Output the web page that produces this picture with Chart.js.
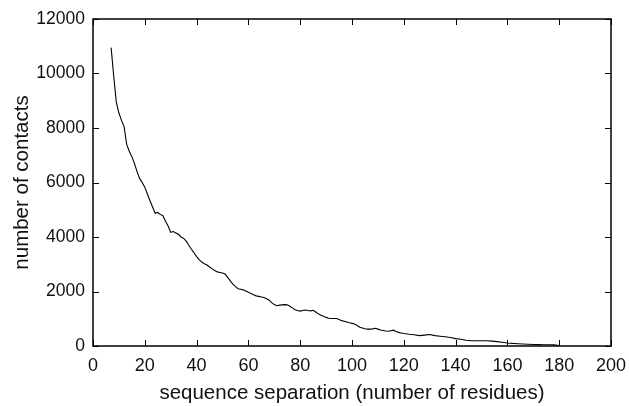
<!DOCTYPE html>
<html>
<head>
<meta charset="utf-8">
<script src="https://cdn.jsdelivr.net/npm/chart.js@4.4.0/dist/chart.umd.min.js"></script>
<style>
  html, body { margin: 0; padding: 0; background: #fff; }
  #wrap { width: 629px; height: 406px; }
</style>
</head>
<body>
<div id="wrap"><canvas id="contactsChart"></canvas></div>
<script>
// separación de secuencia y número de contactos
const separation = [
  7, 8, 9, 10, 11, 12, 13, 14, 15, 16, 17, 18, 19, 20, 21, 22, 23, 24, 25, 26, 27, 28, 29, 30,
  31, 32, 33, 34, 35, 36, 37, 38, 39, 40, 41, 42, 43, 44, 45, 46, 47, 48, 49, 50,
  51, 52, 53, 54, 55, 56, 57, 58, 59, 60, 61, 62, 63, 64, 65, 66, 67, 68, 69, 70,
  71, 72, 73, 74, 75, 76, 77, 78, 79, 80, 81, 82, 83, 84, 85, 86, 87, 88, 89, 90,
  91, 92, 93, 94, 95, 96, 97, 98, 99, 100, 101, 102, 103, 104, 105, 106, 107, 108, 109, 110,
  111, 112, 113, 114, 115, 116, 117, 118, 119, 120, 122, 124, 126, 128, 130,
  132, 134, 136, 138, 140, 142, 144, 146, 148, 150, 152, 154, 156, 158, 160,
  162, 164, 166, 168, 170, 172, 174, 176, 178, 180
];
const contacts = [
  10950, 9900, 8950, 8550, 8280, 8050, 7400, 7150, 6950, 6700, 6400, 6150, 6000, 5830, 5580, 5330, 5100, 4870, 4900, 4830, 4780, 4580, 4400, 4170,
  4200, 4150, 4100, 4000, 3950, 3850, 3700, 3550, 3420, 3280, 3170, 3080, 3020, 2970, 2900, 2830, 2770, 2720, 2700, 2680,
  2640, 2520, 2390, 2270, 2180, 2100, 2080, 2060, 2020, 1970, 1930, 1880, 1840, 1820, 1800, 1780, 1730, 1680, 1590, 1520,
  1480, 1500, 1510, 1520, 1510, 1460, 1400, 1330, 1300, 1280, 1300, 1320, 1300, 1290, 1310, 1250, 1180, 1130, 1090, 1050,
  1020, 1010, 1010, 1010, 970, 930, 910, 880, 850, 830, 810, 750, 690, 660, 630, 620, 620, 630, 650, 620,
  590, 570, 550, 540, 560, 580, 530, 500, 480, 460, 430, 410, 380, 400, 420,
  380, 360, 340, 310, 270, 250, 210, 195, 190, 195, 195, 180, 160, 140, 110,
  95, 85, 75, 65, 55, 50, 48, 45, 40, 20
];
const xTicks = [0, 20, 40, 60, 80, 100, 120, 140, 160, 180, 200];
const yTicks = [0, 2000, 4000, 6000, 8000, 10000, 12000];

const points = separation.map((s, i) => ({ x: s, y: contacts[i] }));
const fontFamily = '"Liberation Sans", Arial, Helvetica, sans-serif';

// marco y marcas hacia dentro, estilo gnuplot
const framePlugin = {
  id: 'frame',
  afterDraw(chart) {
    const { ctx, chartArea: a, scales: { x, y } } = chart;
    const len = 6;
    ctx.save();
    ctx.strokeStyle = '#000';
    ctx.lineWidth = 1;
    ctx.beginPath();
    xTicks.forEach(v => {
      const px = Math.round(x.getPixelForValue(v)) + 0.5;
      ctx.moveTo(px, a.bottom); ctx.lineTo(px, a.bottom - len);
      ctx.moveTo(px, a.top); ctx.lineTo(px, a.top + len);
    });
    yTicks.forEach(v => {
      const py = Math.round(y.getPixelForValue(v)) + 0.5;
      ctx.moveTo(a.left, py); ctx.lineTo(a.left + len, py);
      ctx.moveTo(a.right, py); ctx.lineTo(a.right - len, py);
    });
    ctx.stroke();
    ctx.lineWidth = 1.5;
    ctx.strokeRect(a.left, a.top, a.right - a.left, a.bottom - a.top);
    ctx.restore();
  }
};

new Chart(document.getElementById('contactsChart'), {
  type: 'line',
  data: {
    datasets: [{
      data: points,
      borderColor: '#000',
      borderWidth: 1.1,
      pointRadius: 0,
      tension: 0,
      fill: false
    }]
  },
  options: {
    responsive: true,
    maintainAspectRatio: false,
    animation: false,
    layout: { padding: { top: 19, right: 18, left: 0, bottom: 0 } },
    plugins: { legend: { display: false }, tooltip: { enabled: false } },
    scales: {
      x: {
        type: 'linear',
        min: 0, max: 200,
        afterBuildTicks: s => { s.ticks = xTicks.map(v => ({ value: v })); },
        afterFit: s => { s.height = 60; s.paddingLeft = 0; s.paddingRight = 0; },
        grid: { display: false, drawTicks: false },
        border: { display: false },
        ticks: { color: '#111', padding: 9, maxRotation: 0, font: { family: fontFamily, size: 18 },
                 callback: v => String(v) },
        title: { display: true, text: 'sequence separation (number of residues)', color: '#111',
                 padding: { top: 0, bottom: 0 }, font: { family: fontFamily, size: 20.5 } }
      },
      y: {
        min: 0, max: 12000,
        afterBuildTicks: s => { s.ticks = yTicks.map(v => ({ value: v })); },
        afterFit: s => { s.width = 93; s.paddingTop = 0; s.paddingBottom = 0; },
        grid: { display: false, drawTicks: false },
        border: { display: false },
        ticks: { color: '#111', padding: 8, font: { family: fontFamily, size: 17.5 },
                 callback: v => String(v) },
        title: { display: true, text: 'number of contacts', color: '#111',
                 padding: { top: 10, bottom: 0 }, font: { family: fontFamily, size: 20.5 } }
      }
    }
  },
  plugins: [framePlugin]
});
</script>
</body>
</html>
